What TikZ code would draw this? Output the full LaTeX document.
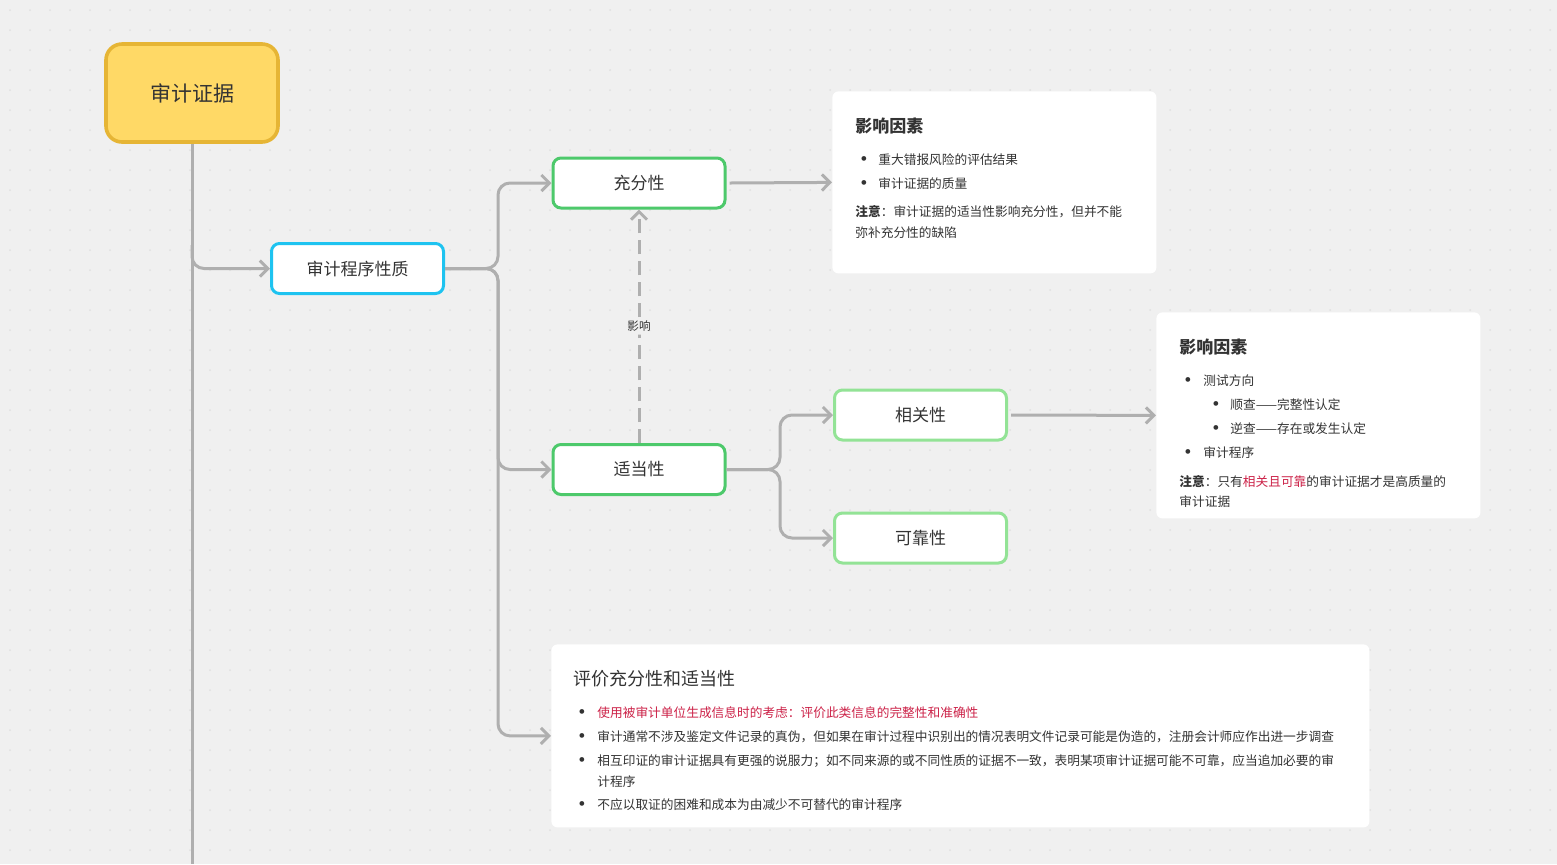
\documentclass[tikz,border=0pt]{standalone}
\usepackage{fontspec}
\newfontfamily\cjk{Noto Sans CJK SC}
\usetikzlibrary{arrows.meta,positioning}
\definecolor{bgc}{HTML}{F0F0F0}
\definecolor{linec}{HTML}{AFAFAF}
\definecolor{txtc}{HTML}{333333}
\definecolor{redc}{HTML}{CC2248}
\definecolor{rootfill}{HTML}{FFD966}
\definecolor{rootdraw}{HTML}{E6B535}
\definecolor{cyanc}{HTML}{1EC3F0}
\definecolor{greenc}{HTML}{4DC96B}
\definecolor{lgreenc}{HTML}{93E396}
\tikzset{
	topic/.style={rectangle,rounded corners=4pt,draw,line width=1.5pt,fill=white,minimum width=86pt,minimum height=25pt,font=\cjk\fontsize{8.5}{10}\selectfont,text=txtc},
	note/.style={rectangle,rounded corners=3pt,fill=white,anchor=north west},
	conn/.style={color=linec,line width=1.5pt,rounded corners=6pt},
	dirconn/.style={->,>={Straight Barb[length=4pt,width=8pt]},color=linec,line width=1.5pt,rounded corners=6pt},
	line/.style={anchor=west,inner sep=0,font=\cjk\fontsize{6.35}{7}\selectfont,text=txtc},
	title/.style={anchor=west,inner sep=0,font=\cjk\bfseries\fontsize{8.5}{10}\selectfont,text=txtc}
}
\newcommand{\bitem}[4]{% bullet x, text x, y, text
	\node[line,font=\fontsize{8}{8}\selectfont] at (#1,#3) {\textbullet};
	\node[line] at (#2,#3) {#4};}
\begin{document}
\begin{tikzpicture}[x=0.5pt,y=-0.5pt]
	\useasboundingbox (0,0) rectangle (1557,864);
	\fill[bgc] (0,0) rectangle (1557,864);
	\foreach \i in {0,...,77} \foreach \j in {0,...,42}
		\fill[black!12] (\i*20+10,\j*20+10) circle (0.5pt);

	%%%% root
	\node[rectangle,rounded corners=8pt,draw=rootdraw,fill=rootfill,line width=1.8pt,minimum width=86pt,minimum height=49pt,font=\cjk\fontsize{10.5}{12}\selectfont,text=txtc] (root) at (192,93) {审计证据};
	\coordinate (bottom) at (192,864);
	\draw[conn] (root.south) -- (bottom);

	%%%% topics
	\node[topic,draw=cyanc] (nature) at (357.5,268.5) {审计程序性质};
	\node[topic,draw=greenc] (suff) at (639,183) {充分性};
	\node[topic,draw=greenc] (appr) at (639,469.5) {适当性};
	\node[topic,draw=lgreenc] (rel) at (920.5,415) {相关性};
	\node[topic,draw=lgreenc] (reli) at (920.5,538) {可靠性};

	%%%% notes
	\node[note,minimum width=162pt,minimum height=91pt] (noteA) at (832,91) {};
	\node[note,minimum width=162pt,minimum height=103pt] (noteB) at (1156,312) {};
	\node[note,minimum width=409pt,minimum height=91.5pt] (noteC) at (551,644) {};

	\draw[dirconn] (192,245) |- (nature.west);
	\draw[dirconn] (nature.east) -- (498,268.5) |- (suff.west);
	\draw[dirconn] (nature.east) -- (498,268.5) |- (appr.west);
	\draw[dirconn] (nature.east) -- (498,268.5) |- (noteC.west);
	\draw[dirconn] (suff.east) ++(3,0) -- (noteA.west);
	\draw[dirconn] (appr.east) -- (780,469.5) |- (rel.west);
	\draw[dirconn] (appr.east) -- (780,469.5) |- (reli.west);
	\draw[dirconn] (rel.east) ++(3,0) -- (noteB.west);
	\draw[dirconn,dash pattern=on 7pt off 3.5pt] (appr.north) -- node[fill=bgc,font=\cjk\fontsize{5.8}{6}\selectfont,text=txtc,inner sep=1.5pt] {影响} (suff.south);

	%%%% note texts
	\node[title] at (855,126) {影响因素};
	\bitem{857}{878}{160}{重大错报风险的评估结果}
	\bitem{857}{878}{184}{审计证据的质量}
	\node[line] at (855,212) {\textbf{注意}：审计证据的适当性影响充分性，但并不能};
	\node[line] at (855,233) {弥补充分性的缺陷};

	\node[title] at (1179,347) {影响因素};
	\bitem{1181}{1203}{381}{测试方向}
	\bitem{1209}{1230}{405}{顺查——完整性认定}
	\bitem{1209}{1230}{429}{逆查——存在或发生认定}
	\bitem{1181}{1203}{453}{审计程序}
	\node[line] at (1179,482) {\textbf{注意}：只有\textcolor{redc}{相关且可靠}的审计证据才是高质量的};
	\node[line] at (1179,502) {审计证据};

	\node[line,font=\cjk\fontsize{9}{10}\selectfont] at (573,679) {评价充分性和适当性};
	\bitem{575}{597}{713}{\textcolor{redc}{使用被审计单位生成信息时的考虑：评价此类信息的完整性和准确性}}
	\bitem{575}{597}{737}{审计通常不涉及鉴定文件记录的真伪，但如果在审计过程中识别出的情况表明文件记录可能是伪造的，注册会计师应作出进一步调查}
	\bitem{575}{597}{761}{相互印证的审计证据具有更强的说服力；如不同来源的或不同性质的证据不一致，表明某项审计证据可能不可靠，应当追加必要的审}
	\node[line] at (597,782) {计程序};
	\bitem{575}{597}{805}{不应以取证的困难和成本为由减少不可替代的审计程序}
\end{tikzpicture}
\end{document}
